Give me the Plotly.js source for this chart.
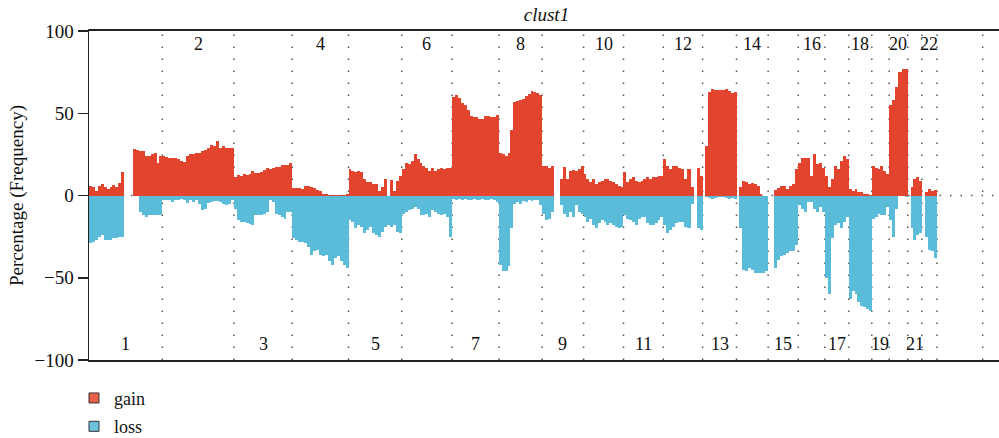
<!DOCTYPE html>
<html><head><meta charset="utf-8">
<script src="https://cdn.plot.ly/plotly-3.0.1.min.js"></script>
<style>html,body{margin:0;padding:0;background:#fff}#chart{width:999px;height:438px}</style>
</head><body><div id="chart"></div>
<script>
// Chromosome lengths (Mb, hg19), 1-22, X, Y
const chromLen = [249.25, 243.2, 198.0, 191.15, 180.9, 171.1, 159.1, 146.4, 141.2, 135.5, 135.0, 133.85,
  115.2, 107.35, 102.5, 90.35, 81.2, 78.1, 59.1, 63.0, 48.1, 51.3, 155.3, 59.4];
const chromLabels = ['1','2','3','4','5','6','7','8','9','10','11','12','13','14','15','16','17','18','19','20','21','22','X','Y'];

// Gain / loss frequency (%) per equal-width bin along each chromosome
const gain1 = [5.5,5,3,6,7,5,4,5,6.5,5,7.5,14,0,0,0,28.5,27.5,27,27,24,24,25.5,26,20,24];
const loss1 = [-29,-28,-27,-25,-24,-27,-27,-27,-26,-26,-25,-25,0,0,0,0,0,-10,-12,-13,-12,-12,-12,-12,-12];
const gain2 = [24,23.5,23,23,22.5,22,21,20.5,24,25,25.5,26,26,27,27.5,29,31,30,33,29,30,29,29,29];
const loss2 = [-3,-2.5,-3,-4,-3,-3,-2,-3,-4.5,-3,-4,-3,-5,-9,-8,-4.5,-4,-3.5,-3.5,-4,-5,-6,-5,-3];
const gain3 = [11,12.5,12,13,12.5,13,15,13.5,13.5,14,15.5,16.5,16,17,17.5,17.5,18.5,18.5,18.5,20];
const loss3 = [-8,-15,-16,-16,-17,-17.5,-18,-12,-12,-12,-11,-10,-3,-4,-11,-12,-13,-14,-10,-10];
const gain4 = [4.5,4.5,4.5,4,6,6,5,4.5,3.5,2.5,1,1,0.5,0.5,0.3,0.3,0.5,0.3,1];
const loss4 = [-26,-27,-28,-28,-29,-31,-36,-34,-33,-36,-37,-36,-40,-42,-38,-37,-40,-42,-44];
const gain5 = [16,15,14.5,15,14,10,8.5,8,7,7,3,5,10,0,9.5,3,9,12];
const loss5 = [-15,-16,-20,-18,-19,-23,-21,-19,-23,-24,-25,-22,-19,-18,-19,-18,-22,-23];
const gain6 = [16,20,19,21,25,22,20,18,17,15,17,15,16,16.5,16,16.5,17];
const loss6 = [-11,-10,-9,-8,-7,-8,-12,-12,-11,-13,-9,-10,-11,-12,-11,-13,-25];
const gain7 = [60,61,59.5,56,55,52,48.6,47.6,47.6,46.6,46.6,48.6,48.6,47.6,47.6,49];
const loss7 = [-2,-2.5,-2,-3,-2,-2.5,-3,-2,-2.5,-3,-2,-2.5,-3,-2,-3,-4];
const gain8 = [26,25,24,26,40,57,57.5,58,58.5,60.5,61.5,63.5,63,62.5,61];
const loss8 = [-42,-46,-46,-43,-20,-5,-4,-5,-3.5,-4,-3,-3.5,-3,-3,-6];
const gain9 = [18,18,17,18,0,0,10,17.5,10,15,15.5,15,16,18];
const loss9 = [-11,-15,-14,-10,0,0,-6,-11,-13,-10,-13,-6,-10,-11];
const gain10 = [13,10,8,10,7,8,9,10,10,9,8,7,6,5];
const loss10 = [-13,-16,-14,-18,-20,-17,-15,-16,-18,-17,-18,-19,-20,-19];
const gain11 = [14,8,10,11,9,8,9,10,11,10,11,11,12,12];
const loss11 = [-12,-14,-15,-16,-18,-14,-13,-13,-17,-18,-18,-17,-15,-13];
const gain12 = [22,18,16,18,18,17,16,10,16,5,0,17,12];
const loss12 = [-18,-23,-21,-19,-17,-16,-16,-19,-20,-5,0,-20,-21];
const gain13 = [0,30,63,64.5,64,64,64,64,65,63.5,62.5,63];
const loss13 = [0,-1,-1.5,-2,-1.5,-1,-1,-1,-1.5,-2,-1.5,-2];
const gain14 = [0,5,9,8,7,7.5,7,6,1,0,0];
const loss14 = [0,-20,-45,-46,-44,-45,-47,-47,-47,-47,-46];
const gain15 = [0,0,3.5,4.5,5.5,5.5,4,6,7,16];
const loss15 = [0,0,-44,-39,-37,-36,-35,-34,-34,-30];
const gain16 = [20,23,23,23,12,25,19,20,17];
const loss16 = [-6,-8,-10,-4,-4,-8,-10,-7,-10];
const gain17 = [12,5,10,18,16,21,24,22];
const loss17 = [-50,-60,-26,-18,-17,-20,-16,-13];
const gain18 = [4,2.5,4,2,2,1,1,0.5];
const loss18 = [-63,-58,-60,-65,-67,-68,-69,-70];
const gain19 = [18,17,16,18,15,13];
const loss19 = [-14,-13,-11,-12,-12,-7];
const gain20 = [55,58,66,75,77,77];
const loss20 = [-15,-25,-8,0,0,-1];
const gain21 = [0,5,10,11,9];
const loss21 = [0,-20,-27,-24,-23];
const gain22 = [0,2,4,3,3.5];
const loss22 = [0,-25,-33,-34,-38];

const gains = [gain1,gain2,gain3,gain4,gain5,gain6,gain7,gain8,gain9,gain10,gain11,gain12,gain13,gain14,gain15,gain16,gain17,gain18,gain19,gain20,gain21,gain22];
const losses = [loss1,loss2,loss3,loss4,loss5,loss6,loss7,loss8,loss9,loss10,loss11,loss12,loss13,loss14,loss15,loss16,loss17,loss18,loss19,loss20,loss21,loss22];

const GAIN_COLOR = '#e3442e';
const LOSS_COLOR = '#5bbcda';
const FONT = "'Liberation Serif', 'DejaVu Serif', serif";

const offs = [];
let acc = 0;
chromLen.forEach(l => { offs.push(acc); acc += l; });
const total = acc;

function binned(series) {
  const x = [], y = [], w = [];
  series.forEach((vals, c) => {
    const bw = chromLen[c] / vals.length;
    vals.forEach((v, k) => { x.push(offs[c] + (k + 0.5) * bw); y.push(v); w.push(bw); });
  });
  return {x, y, w};
}
const G = binned(gains), L = binned(losses);

const traces = [
  {type:'bar', x:G.x, y:G.y, width:G.w, marker:{color:GAIN_COLOR, line:{width:0}}, showlegend:false, hoverinfo:'skip'},
  {type:'bar', x:L.x, y:L.y, width:L.w, marker:{color:LOSS_COLOR, line:{width:0}}, showlegend:false, hoverinfo:'skip'},
  {type:'scatter', mode:'markers', name:'gain', x:[null], y:[null], legendgroup:'g',
   marker:{symbol:'square', size:10, color:'#e8604a', line:{color:'#333', width:1}}},
  {type:'scatter', mode:'markers', name:'loss', x:[null], y:[null], legendgroup:'l',
   marker:{symbol:'square', size:10, color:'#6cc4de', line:{color:'#333', width:1}}}
];

const shapes = [];
// dotted zero line (visible where there is no data)
shapes.push({type:'line', layer:'below', xref:'x', yref:'y', x0:0, x1:total, y0:0, y1:0,
  line:{color:'#555', width:1.5, dash:'1.5px,9px'}});
// chromosome separators
for (let c = 0; c < 23; c++) {
  const b = offs[c] + chromLen[c];
  shapes.push({type:'line', layer:'below', xref:'x', yref:'y', x0:b, x1:b, y0:-100, y1:100,
    line:{color:'#555', width:1.5, dash:'1.5px,10.5px'}});
}

const annotations = [];
for (let c = 0; c < 22; c++) {
  annotations.push({x: offs[c] + chromLen[c] / 2, y: (c % 2 === 1) ? 92 : -90, xref:'x', yref:'y',
    text: chromLabels[c], showarrow:false, font:{family:FONT, size:18, color:'#111'}});
}

const layout = {
  width:999, height:438,
  margin:{l:89, r:0, t:31, b:78, autoexpand:false},
  paper_bgcolor:'#fff', plot_bgcolor:'#fff',
  font:{family:FONT, color:'#111', size:17},
  title:{text:'<i>clust1</i>', x:0.547, xanchor:'center', y:0.968, yanchor:'middle', font:{family:FONT, size:19, color:'#111'}},
  barmode:'overlay', bargap:0,
  xaxis:{range:[0, 3091.5], showline:true, mirror:true, linecolor:'#222', linewidth:2,
    showgrid:false, zeroline:false, showticklabels:false, ticks:'', fixedrange:true},
  yaxis:{range:[-100, 100], tickvals:[-100,-50,0,50,100], ticks:'outside', ticklen:10, tickwidth:1.5, tickcolor:'#222',
    showline:true, linecolor:'#222', linewidth:1.5, showgrid:false, zeroline:false,
    tickfont:{family:FONT, size:19, color:'#111'},
    title:{text:'Percentage (Frequency)', font:{family:FONT, size:19, color:'#111'}, standoff:6}},
  showlegend:true,
  legend:{x:-0.0165, xanchor:'left', y:-0.06, yanchor:'top', orientation:'v', tracegroupgap:2,
    font:{family:FONT, size:18, color:'#111'}, bgcolor:'rgba(0,0,0,0)'},
  shapes, annotations
};

Plotly.newPlot('chart', traces, layout, {displayModeBar:false, staticPlot:true});
</script></body></html>
